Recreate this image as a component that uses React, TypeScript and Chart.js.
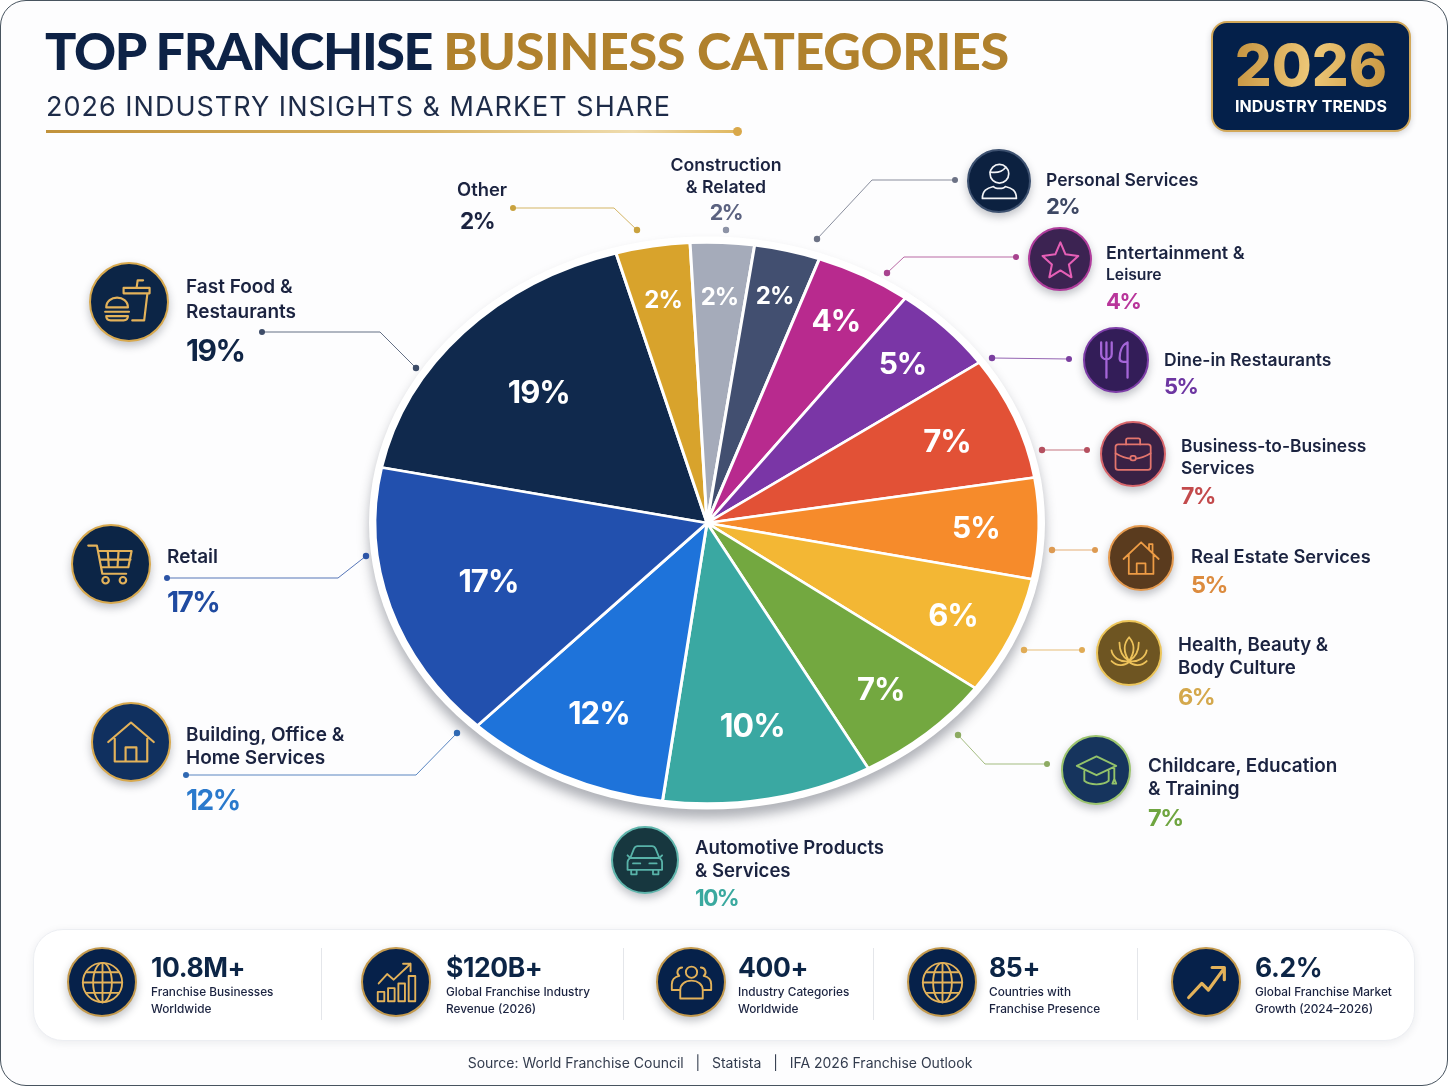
import React, { useEffect, useRef } from "react";
import { Chart, registerables } from "chart.js";

Chart.register(...registerables);

// Clockwise from the Fast Food slice.
const categories = [
  "Fast Food & Restaurants", "Other", "Construction & Related", "Personal Services",
  "Entertainment & Leisure", "Dine-in Restaurants", "Business-to-Business Services",
  "Real Estate Services", "Health, Beauty & Body Culture", "Childcare, Education & Training",
  "Automotive Products & Services", "Building, Office & Home Services", "Retail",
];
// The percentages printed on the picture.
const printedPercents = [19, 2, 2, 2, 4, 5, 7, 5, 6, 7, 10, 12, 17];
// The slice sizes as actually drawn in the picture (share of the full circle).
const drawnSliceShares = [17.4, 3.6, 3.1, 3.2, 4.7, 5.1, 7.1, 5.8, 6.8, 6.9, 10.2, 10, 16];
const sliceColors = [
  "#10294d", "#d8a32c", "#a5abba", "#424f70", "#b82a8e", "#7a36a6", "#e25136",
  "#f68b2b", "#f3b734", "#73a840", "#3aa8a2", "#1e73da", "#2250ae",
];
const stats = [
  ["10.8M+", "Franchise Businesses", "Worldwide"],
  ["$120B+", "Global Franchise Industry", "Revenue (2026)"],
  ["400+", "Industry Categories", "Worldwide"],
  ["85+", "Countries with", "Franchise Presence"],
  ["6.2%", "Global Franchise Market", "Growth (2024–2026)"],
];

const labelRadius = [0.69, 0.81, 0.81, 0.84, 0.82, 0.82, 0.78, 0.81, 0.81, 0.79, 0.735, 0.75, 0.69];
const labelSize = [31, 24, 24, 24, 30, 30, 31, 30, 31, 31, 32, 31, 31];
const SQUASH = 0.845;
const FONT = "Inter, 'Noto Sans', sans-serif";
const NAVY = "#0c2546";
const INK = "#1b2340";

const squashPlugin = {
  id: "squash",
  beforeDatasetsDraw(chart: any) {
    const { ctx } = chart;
    const a = chart.getDatasetMeta(0).data[0];
    ctx.save();
    ctx.shadowColor = "rgba(30,35,50,0.34)";
    ctx.shadowBlur = 12;
    ctx.shadowOffsetY = 9;
    ctx.fillStyle = "#fff";
    ctx.beginPath();
    ctx.ellipse(a.x, a.y, a.outerRadius + 6, a.outerRadius * SQUASH + 6, 0, 0, Math.PI * 2);
    ctx.fill();
    ctx.restore();
    ctx.save();
    ctx.translate(0, a.y);
    ctx.scale(1, SQUASH);
    ctx.translate(0, -a.y);
  },
  afterDatasetsDraw(chart: any) {
    const { ctx } = chart;
    ctx.restore();
    const arcs = chart.getDatasetMeta(0).data;
    ctx.save();
    ctx.fillStyle = "#fff";
    ctx.textAlign = "center";
    ctx.textBaseline = "middle";
    (ctx as any).letterSpacing = "-1px";
    arcs.forEach((a: any, i: number) => {
      const mid = (a.startAngle + a.endAngle) / 2;
      const r = a.outerRadius * labelRadius[i];
      ctx.font = `700 ${labelSize[i]}px ${FONT}`;
      ctx.fillText(`${printedPercents[i]}%`, a.x + Math.cos(mid) * r, a.y + Math.sin(mid) * r * SQUASH + 2);
    });
    ctx.restore();
  },
};

type Callout = {
  lines: string[]; x: number; ys: number[]; pct: string; pctX?: number; pctY: number; pctSize: number; color: string;
  size?: number; sizes?: number[]; center?: boolean;
};
const callouts: Callout[] = [
  { lines: ["Fast Food &", "Restaurants"], x: 186, ys: [286, 311], pct: "19%", pctY: 350, pctSize: 30, color: "#0f2445", size: 19 },
  { lines: ["Other"], x: 457, ys: [189], pct: "2%", pctX: 460, pctY: 221, pctSize: 22.5, color: "#1b2340", size: 18.4 },
  { lines: ["Construction", "& Related"], x: 726, ys: [164.5, 186.5], pct: "2%", pctY: 213, pctSize: 21.5, color: "#5b6280", size: 17.7, center: true },
  { lines: ["Personal Services"], x: 1046, ys: [179.5], pct: "2%", pctY: 206, pctSize: 22, color: "#3e4864", size: 17.5 },
  { lines: ["Entertainment &", "Leisure"], x: 1106, ys: [253, 275], pct: "4%", pctY: 301, pctSize: 22, color: "#b8359a", sizes: [17.9, 15.7] },
  { lines: ["Dine-in Restaurants"], x: 1164, ys: [359.5], pct: "5%", pctY: 386, pctSize: 22, color: "#6d36a2", size: 17.5 },
  { lines: ["Business-to-Business", "Services"], x: 1181, ys: [445.5, 467.5], pct: "7%", pctY: 496, pctSize: 23, color: "#c34a4c", size: 17.4 },
  { lines: ["Real Estate Services"], x: 1191, ys: [556], pct: "5%", pctY: 585, pctSize: 23.5, color: "#dc8b3e", size: 18.3 },
  { lines: ["Health, Beauty &", "Body Culture"], x: 1178, ys: [644.5, 667.5], pct: "6%", pctY: 697, pctSize: 23.5, color: "#d4a84c", size: 18.7 },
  { lines: ["Childcare, Education", "& Training"], x: 1148, ys: [765.5, 788.5], pct: "7%", pctY: 818, pctSize: 23.5, color: "#6fa540", size: 18.9 },
  { lines: ["Automotive Products", "& Services"], x: 695, ys: [847, 870], pct: "10%", pctY: 898, pctSize: 22.5, color: "#3aa99f", size: 18.6 },
  { lines: ["Building, Office &", "Home Services"], x: 186, ys: [734, 757], pct: "12%", pctY: 800, pctSize: 28, color: "#2a79cc", size: 19 },
  { lines: ["Retail"], x: 167, ys: [556], pct: "17%", pctY: 602, pctSize: 28, color: "#1f4aa0", size: 19 },
];

type Leader = { pts: number[][]; color: string };
const leaders: Leader[] = [
  { pts: [[262, 332], [380, 332], [416, 368]], color: "#3d4c68" },
  { pts: [[513, 208], [614, 208], [637, 230]], color: "#c9a23e" },
  { pts: [[726, 230]], color: "#8d93a6" },
  { pts: [[955, 180], [872, 180], [817, 239]], color: "#6c7285" },
  { pts: [[1016, 257], [904, 257], [887, 273]], color: "#a8438f" },
  { pts: [[1069, 359], [992, 358]], color: "#7a3e9f" },
  { pts: [[1087, 450], [1042, 450]], color: "#b5505f" },
  { pts: [[1095, 550], [1052, 550]], color: "#dd9a52" },
  { pts: [[1082, 650], [1024, 650]], color: "#e0ab55" },
  { pts: [[1047, 764], [985, 764], [958, 735]], color: "#8dab62" },
  { pts: [[186, 775], [416, 775], [457, 733]], color: "#2f68b2" },
  { pts: [[167, 578], [338, 578], [366, 556]], color: "#2c54a6" },
];

const I = ({ c, children }: { c: string; children: React.ReactNode }) => (
  <svg viewBox="0 0 48 48" width="100%" height="100%" fill="none" stroke={c} strokeWidth={2} strokeLinecap="round" strokeLinejoin="round">
    {children}
  </svg>
);
const icons: Record<string, (c: string) => React.ReactNode> = {
  food: (c) => <I c={c}><path d="M3 29c0-6 5-9 10-9s10 3 10 9zM2 33h22M3 37h20c0 3-2 4-4 4H7c-2 0-4-1-4-4zM21 16h20l-3 25H27M19 11h24v5H19zM31 11l1-7h5" /></I>,
  cart: (c) => <I c={c}><path d="M3 7h8l5 26h22M12 12h31l-3 15H15M21 12l1 15M31 12l-1 15M14 20h28" /><circle cx="19" cy="39" r="3" /><circle cx="35" cy="39" r="3" /></I>,
  home: (c) => <I c={c}><path d="M3 24 24 6l21 18M9 21v21h30V21M19 42V29h10v13" /></I>,
  car: (c) => <I c={c}><path d="M8 22l4-10c1-2 2-3 4-3h16c2 0 3 1 4 3l4 10M8 22h32c2 1 3 3 3 5v8H5v-8c0-2 1-4 3-5zM9 35v5h6v-5M33 35v5h6v-5M5 19l3 3M43 19l-3 3M11 28h8M29 28h8" /></I>,
  cap: (c) => <I c={c}><path d="M24 9 3 19l21 10 21-10zM11 24v11c6 5 20 5 26 0V24M43 20v13M43 33l-2 5h4z" /></I>,
  lotus: (c) => <I c={c}><path d="M24 6c6 7 8 15 0 27-8-12-6-20 0-27zM13 12c0 7 2 16 11 21M35 12c0 7-2 16-11 21M4 21c1 7 9 14 20 12M44 21c-1 7-9 14-20 12M4 33c6 6 15 6 20 1 5 5 14 5 20-1" /></I>,
  house2: (c) => <I c={c}><path d="M4 25 24 6l20 19M10 20v22h28V20M19 42V30h10v12M33 8v6M33 8h4v10" /></I>,
  brief: (c) => <I c={c}><rect x="4" y="13" width="40" height="29" rx="3" /><path d="M16 13V8c0-1 1-2 2-2h12c1 0 2 1 2 2v5M4 23c10 6 15 6 17 6M44 23c-10 6-15 6-17 6" /><rect x="21" y="26" width="6" height="5" rx="2" /></I>,
  utensils: (c) => <I c={c}><path d="M7 4v13c0 4 3 6 6 6s6-2 6-6V4M13 4v40M37 4c-7 3-9 12-9 18 0 3 2 4 4 4h5zM37 4v40" strokeWidth={2.6} /></I>,
  star: (c) => <I c={c}><path d="M24 4l6 14 15 2-11 10 3 15-13-8-13 8 3-15L3 20l15-2z" strokeWidth={2.4} /></I>,
  person: (c) => <I c={c}><circle cx="24" cy="15" r="11" /><path d="M13 13c6 1 14 0 18-5M4 44c0-9 5-12 13-14 2 3 12 3 14 0 8 2 13 5 13 14z" /></I>,
  globe: (c) => <I c={c}><circle cx="24" cy="24" r="21" /><ellipse cx="24" cy="24" rx="10" ry="21" /><path d="M24 3v42M3 24h42M7 13h34M7 35h34" /></I>,
  growth: (c) => <I c={c}><path d="M5 25l9-10 7 6L39 4M31 4h8v8" /><rect x="4" y="34" width="7" height="10" /><rect x="15" y="30" width="7" height="14" /><rect x="26" y="25" width="7" height="19" /><rect x="37" y="17" width="7" height="27" /></I>,
  people: (c) => <I c={c}><circle cx="24" cy="13" r="6" /><path d="M12 41V32c0-6 5-10 12-10s12 4 12 10v9z" /><path d="M14 8a5 5 0 0 0-3 9c-5 1-8 4-8 9v6h8M34 8a5 5 0 0 1 3 9c5 1 8 4 8 9v6h-8" /></I>,
  trend: (c) => <I c={c}><path d="M5 40 19 25l7 7L42 10M30 8h13v13" strokeWidth={3.4} /></I>,
};

type Badge = { cx: number; cy: number; r: number; bg: string; ring: string; icon: string; stroke: string };
const GOLD = "#e3b25a";
const badges: Badge[] = [
  { cx: 129, cy: 302, r: 40, bg: "#0c2546", ring: "#d8a94e", icon: "food", stroke: GOLD },
  { cx: 111, cy: 564, r: 40, bg: "#0c2546", ring: "#d8a94e", icon: "cart", stroke: GOLD },
  { cx: 131, cy: 742, r: 40, bg: "#10305f", ring: "#d8a94e", icon: "home", stroke: GOLD },
  { cx: 645, cy: 860, r: 34, bg: "#17373f", ring: "#5fb5ac", icon: "car", stroke: "#58b3a9" },
  { cx: 1096, cy: 770, r: 35, bg: "#16345d", ring: "#9cc46e", icon: "cap", stroke: "#93c26a" },
  { cx: 1129, cy: 653, r: 33, bg: "#6e5522", ring: "#ecc559", icon: "lotus", stroke: "#edc25a" },
  { cx: 1141, cy: 558, r: 33, bg: "#5a3b1e", ring: "#e59a4f", icon: "house2", stroke: "#ee9c45" },
  { cx: 1133, cy: 454, r: 33, bg: "#3a2145", ring: "#d8666b", icon: "brief", stroke: "#e4756d" },
  { cx: 1116, cy: 360, r: 33, bg: "#331d58", ring: "#7d3da8", icon: "utensils", stroke: "#a566d8" },
  { cx: 1060, cy: 259, r: 32, bg: "#3c2352", ring: "#b03d9c", icon: "star", stroke: "#e55fb6" },
  { cx: 999, cy: 181, r: 32, bg: "#0c2140", ring: "#3d5170", icon: "person", stroke: "#f2f4f7" },
];
const statIcons = ["globe", "growth", "people", "globe", "trend"];
const statCircleX = [102, 396, 691, 942, 1206];
const statTextX = [151, 446, 738, 989, 1255];
const dividerX = [321, 623, 873, 1137];

function T({ x, y, size, weight = 400, color = INK, center, spacing, children }: any) {
  return (
    <div style={{
      position: "absolute", left: x, top: y, transform: `translate(${center ? "-50%" : "0"}, -50%)`,
      fontFamily: FONT, fontSize: size, fontWeight: weight, color, whiteSpace: "nowrap", lineHeight: 1,
      letterSpacing: spacing,
    }}>{children}</div>
  );
}

function Circle({ b }: { b: Badge }) {
  const d = b.r * 2;
  const pad = b.r * 0.3;
  return (
    <div style={{
      position: "absolute", left: b.cx - b.r, top: b.cy - b.r, width: d, height: d, boxSizing: "border-box",
      borderRadius: "50%", background: b.bg, border: `2.5px solid ${b.ring}`, padding: pad,
      boxShadow: "0 4px 9px rgba(30,35,50,0.28)",
    }}>{icons[b.icon](b.stroke)}</div>
  );
}

export default function App() {
  const ref = useRef<HTMLCanvasElement>(null);
  useEffect(() => {
    document.body.style.margin = "0";
    const chart = new Chart(ref.current!, {
      type: "pie",
      data: {
        labels: categories,
        datasets: [{ data: drawnSliceShares, backgroundColor: sliceColors, borderColor: "#ffffff", borderWidth: 3, radius: 332 } as any],
      },
      options: {
        responsive: false,
        animation: false,
        rotation: -78.6,
        layout: { padding: { left: 40, right: 74, top: 102, bottom: 142 } },
        plugins: { legend: { display: false }, tooltip: { enabled: false } },
      },
      plugins: [squashPlugin],
    });
    return () => chart.destroy();
  }, []);

  return (
    <div style={{ position: "relative", width: 1448, height: 1086, overflow: "hidden", background: "#fff" }}>
      <div style={{ position: "absolute", inset: 0, boxSizing: "border-box", border: "1.5px solid #48545f", borderRadius: 26, background: "#fdfdfe" }} />
      <canvas ref={ref} width={1448} height={1086} style={{ position: "absolute", left: 0, top: 0 }} />

      <div style={{
        position: "absolute", left: 45, top: 50, transform: "translateY(-50%)", fontFamily: "Lato, sans-serif",
        fontWeight: 900, fontSize: 52, lineHeight: 1, whiteSpace: "nowrap", color: "#0d2246", letterSpacing: "-1.35px",
      }}>
        TOP FRANCHISE <span style={{ color: "#b0812d", letterSpacing: "-0.38px" }}>BUSINESS CATEGORIES</span>
      </div>
      <T x={46} y={106} size={27} color="#1d2b48" spacing="1px">2026 INDUSTRY INSIGHTS &amp; MARKET SHARE</T>
      <div style={{ position: "absolute", left: 46, top: 130, width: 690, height: 3, background: "linear-gradient(90deg,#c1923b,#d9b566 55%,#efdcae 85%,#e0b860)" }} />
      <div style={{ position: "absolute", left: 733, top: 127, width: 9, height: 9, borderRadius: "50%", background: "#d9a84a" }} />

      <div style={{
        position: "absolute", left: 1211, top: 21, width: 200, height: 111, boxSizing: "border-box", borderRadius: 16,
        background: "#04204a", border: "2px solid #d2a859", boxShadow: "0 2px 6px rgba(30,35,50,0.2)",
      }} />
      <div style={{
        position: "absolute", left: 1311, top: 65, transform: "translate(-50%,-50%)", fontFamily: FONT, fontWeight: 800, fontSize: 58,
        lineHeight: 1, background: "linear-gradient(100deg,#c4923f,#eec878 50%,#c7953f)", WebkitBackgroundClip: "text",
        backgroundClip: "text", color: "transparent", whiteSpace: "nowrap",
      }}>2026</div>
      <T x={1311} y={106} size={16} weight={700} color="#fff" center>INDUSTRY TRENDS</T>

      <svg width={1448} height={1086} style={{ position: "absolute", left: 0, top: 0 }}>
        {leaders.map((l, i) => (
          <g key={i}>
            {l.pts.length > 1 && <polyline points={l.pts.map((p) => p.join(",")).join(" ")} fill="none" stroke={l.color} strokeWidth={1} opacity={0.8} />}
            <circle cx={l.pts[0][0]} cy={l.pts[0][1]} r={3} fill={l.color} />
            <circle cx={l.pts[l.pts.length - 1][0]} cy={l.pts[l.pts.length - 1][1]} r={3.2} fill={l.color} />
          </g>
        ))}
      </svg>

      {badges.map((b, i) => <Circle key={i} b={b} />)}

      {callouts.map((c, i) => (
        <React.Fragment key={i}>
          {c.lines.map((ln, j) => (
            <T key={j} x={c.x} y={c.ys[j]} size={c.sizes ? c.sizes[j] : c.size} weight={600} color={INK} center={c.center}>{ln}</T>
          ))}
          <T x={c.pctX ?? c.x} y={c.pctY} size={c.pctSize} weight={700} color={c.color} center={c.center} spacing="-1.5px">{c.pct}</T>
        </React.Fragment>
      ))}

      <div style={{
        position: "absolute", left: 33, top: 929, width: 1382, height: 112, boxSizing: "border-box", borderRadius: 30,
        background: "#fff", border: "1px solid #eceef2", boxShadow: "0 2px 8px rgba(30,35,50,0.08)",
      }} />
      {dividerX.map((x) => <div key={x} style={{ position: "absolute", left: x, top: 948, width: 1, height: 72, background: "#e4e6ea" }} />)}
      {stats.map((s, i) => (
        <React.Fragment key={i}>
          <Circle b={{ cx: statCircleX[i], cy: 982, r: 35, bg: "#06214a", ring: "#c49a4d", icon: statIcons[i], stroke: GOLD }} />
          <T x={statTextX[i]} y={967} size={26.5} weight={700} color={NAVY} spacing="-0.4px">{s[0]}</T>
          <T x={statTextX[i]} y={993} size={11.8} weight={500} color={INK}>{s[1]}</T>
          <T x={statTextX[i]} y={1010} size={11.8} weight={500} color={INK}>{s[2]}</T>
        </React.Fragment>
      ))}
      <T x={720} y={1063} size={14} color="#333c4e" center>
        Source: World Franchise Council &nbsp; | &nbsp; Statista &nbsp; | &nbsp; IFA 2026 Franchise Outlook
      </T>
    </div>
  );
}
